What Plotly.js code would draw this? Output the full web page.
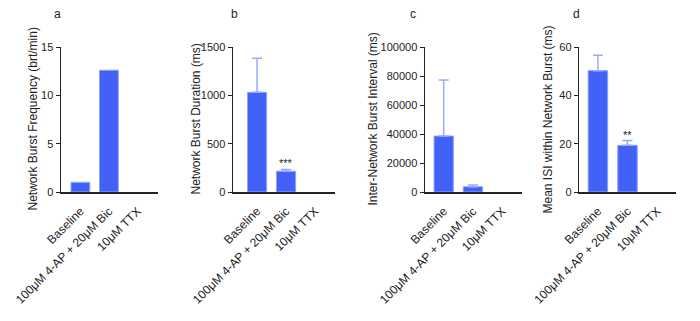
<!DOCTYPE html>
<html><head><meta charset="utf-8">
<script src="https://cdn.plot.ly/plotly-3.0.1.min.js"></script>
<style>html,body{margin:0;padding:0;background:#fff}#chart{width:700px;height:321px}</style>
</head><body><div id="chart"></div>
<script>
const categories = ["Baseline", "100μM 4-AP + 20μM Bic", "10μM TTX"];
const panelLetters = ["a", "b", "c", "d"];
const yTitles = ["Network Burst Frequency (brt/min)", "Network Burst Duration (ms)", "Inter-Network Burst Interval (ms)", "Mean ISI within Network Burst (ms)"];
const burstFrequency = [1.0, 12.6, 0];
const burstFrequencyErr = [0, 0, 0];
const burstDuration = [1031, 215, 0];
const burstDurationErr = [352, 18, 0];
const interBurstInterval = [38600, 3600, 0];
const interBurstIntervalErr = [38600, 1300, 0];
const meanISI = [50.2, 19.3, 0];
const meanISIErr = [6.4, 2.0, 0];
const significance = ["", "***", "", "**"];
const yRanges = [[0, 15], [0, 1500], [0, 100000], [0, 60]];
const yDticks = [5, 500, 20000, 20];

const W = 700, H = 321;
const axisPx = [[61, 158], [233, 335], [425, 522], [579.3, 676]];
const xRanges = [[-0.68, 2.72], [-0.83, 2.69], [-0.64, 2.68], [-0.63, 2.64]];
const yTop = 47, yBot = 192;
const letterX = [57, 235, 413, 576];
const titleX = [32, 195, 372, 547];

const values = [burstFrequency, burstDuration, interBurstInterval, meanISI];
const errs = [burstFrequencyErr, burstDurationErr, interBurstIntervalErr, meanISIErr];

const traces = [];
const layout = {
  width: W, height: H, margin: {l: 0, r: 0, t: 0, b: 0},
  paper_bgcolor: '#fff', plot_bgcolor: '#fff', showlegend: false,
  font: {family: 'Liberation Sans, Arial, sans-serif', size: 11, color: '#222'},
  annotations: []
};
for (let i = 0; i < 4; i++) {
  const s = i === 0 ? '' : String(i + 1);
  // zero-valued groups (TTX abolished activity) have no bar drawn
  const idx = values[i].map((v, k) => k).filter(k => values[i][k] > 0);
  traces.push({
    type: 'bar', x: idx.map(k => categories[k]), y: idx.map(k => values[i][k]),
    xaxis: 'x' + s, yaxis: 'y' + s, width: 0.66,
    marker: {color: '#4262f7', line: {color: '#8ea2ff', width: 1}},
    error_y: {type: 'data', array: idx.map(k => errs[i][k]), symmetric: false,
              arrayminus: idx.map(() => 0),
              visible: errs[i].some(e => e > 0), color: '#98abff', thickness: 1.5, width: 5}
  });
  const xd = [axisPx[i][0] / W, axisPx[i][1] / W];
  const yd = [(H - yBot) / H, (H - yTop) / H];
  layout['xaxis' + s] = {
    domain: xd, range: xRanges[i], type: 'category', categoryorder: 'array', categoryarray: categories,
    tickmode: 'array', tickvals: categories, ticktext: categories, anchor: 'y' + s,
    showline: true, linecolor: '#222', linewidth: 1.5, ticks: '', showgrid: false,
    tickangle: -45, ticklabelstandoff: 6, tickfont: {size: 12, color: '#222'}, zeroline: false, fixedrange: true
  };
  layout['yaxis' + s] = {
    domain: yd, range: yRanges[i], dtick: yDticks[i], tick0: 0, anchor: 'x' + s,
    showline: true, linecolor: '#222', linewidth: 1.5, ticks: 'outside', ticklen: 4,
    tickcolor: '#222', tickwidth: 1, showgrid: false, zeroline: false,
    tickformat: 'd', tickfont: {size: 11, color: '#222'}, fixedrange: true
  };
  layout.annotations.push({
    xref: 'paper', yref: 'paper', x: letterX[i] / W, y: (H - 14) / H,
    text: panelLetters[i], showarrow: false, xanchor: 'center', yanchor: 'middle',
    font: {size: 12, color: '#222'}
  });
  layout.annotations.push({
    xref: 'paper', yref: 'paper', x: titleX[i] / W, y: (H - 119.5) / H,
    text: yTitles[i], textangle: -90, showarrow: false, xanchor: 'center', yanchor: 'middle',
    font: {size: 12, color: '#222'}
  });
  if (significance[i]) {
    layout.annotations.push({
      xref: 'x' + s, yref: 'y' + s, x: categories[1], y: values[i][1] + errs[i][1],
      text: significance[i], showarrow: false, xanchor: 'center', yanchor: 'bottom',
      yshift: -2, font: {size: 11, color: '#222'}
    });
  }
}
Plotly.newPlot('chart', traces, layout, {displayModeBar: false, staticPlot: true});
</script></body></html>
